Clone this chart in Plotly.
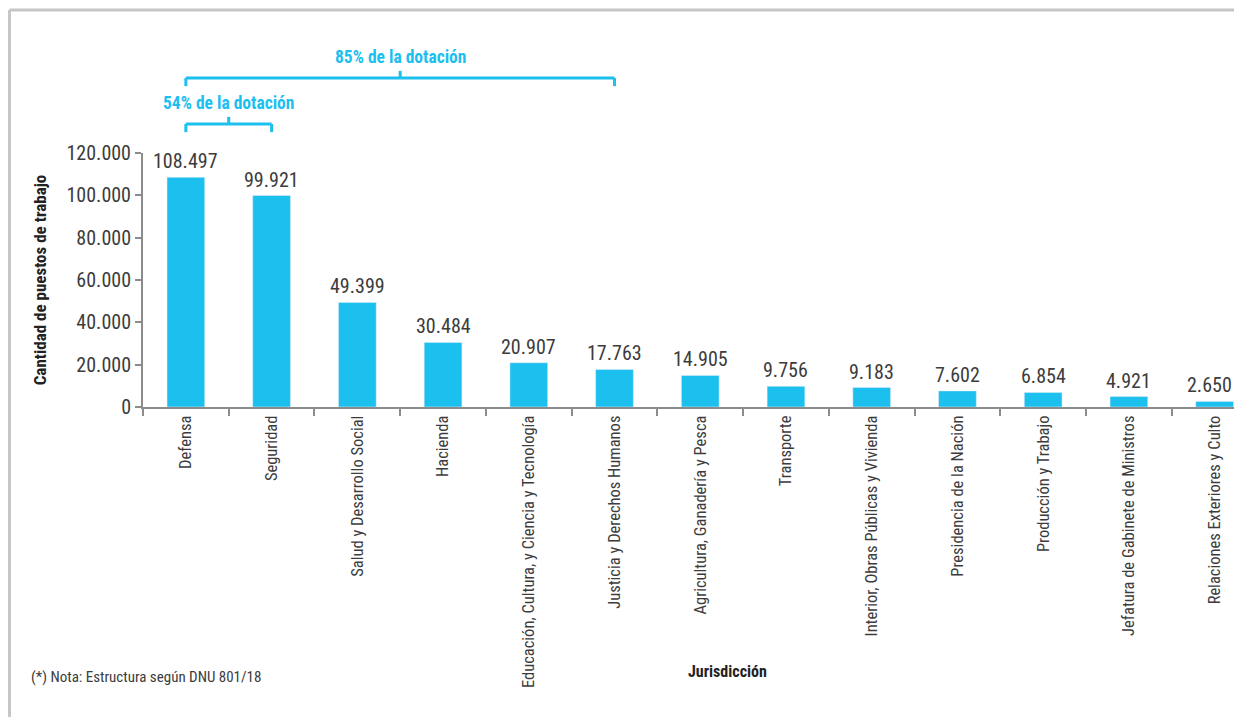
import plotly.graph_objects as go

# Jurisdicciones y cantidad de puestos de trabajo
jurisdicciones = [
    "Defensa",
    "Seguridad",
    "Salud y Desarrollo Social",
    "Hacienda",
    "Educación, Cultura, y Ciencia y Tecnología",
    "Justicia y Derechos Humanos",
    "Agricultura, Ganadería y Pesca",
    "Transporte",
    "Interior, Obras Públicas y Vivienda",
    "Presidencia de la Nación",
    "Producción y Trabajo",
    "Jefatura de Gabinete de Ministros",
    "Relaciones Exteriores y Culto",
]
puestos = [108497, 99921, 49399, 30484, 20907, 17763, 14905, 9756, 9183, 7602, 6854, 4921, 2650]
y_ticks = [0, 20000, 40000, 60000, 80000, 100000, 120000]

FONT = "Roboto Condensed, Roboto, sans-serif"
CYAN = "#1bc0ef"
GRIS = "#3c3c3c"
EJE = "#8c8c8c"

# the page puts the figure 8px in from the top-left corner (body margin)
OFF = 8
W, H = 1242 - 2 * OFF, 725 - 2 * OFF
# plot area on screen: x 143..(1242-8), y 153..407
L, T = 143 - OFF, 153 - OFF
B = H - (407 - OFF)
PW, PH = W - L, H - T - B
CAT_PX = 85.73  # ancho de cada categoría en px


def px_x(p):
    return (p - OFF - L) / PW


def px_y(p):
    return (H - B - (p - OFF)) / PH


def fmt(v):
    return f"{v:,}".replace(",", ".")


def main():
    fig = go.Figure()
    fig.add_trace(go.Bar(
        x=jurisdicciones,
        y=puestos,
        marker_color=CYAN,
        cliponaxis=False,
    ))

    # etiquetas de valor sobre cada barra (la última corrida un poco para que entre)
    for i, (cat, v) in enumerate(zip(jurisdicciones, puestos)):
        fig.add_annotation(
            x=cat, y=v, text=fmt(v), showarrow=False, yanchor="bottom", yshift=2,
            xshift=-5 if i == len(puestos) - 1 else 0,
            font=dict(family=FONT, size=20, color=GRIS),
        )

    fig.update_layout(
        width=W, height=H,
        margin=dict(l=L, r=0, t=T, b=B),
        paper_bgcolor="white", plot_bgcolor="white",
        separators=",.",
        bargap=0.56,
        showlegend=False,
        font=dict(family=FONT, color=GRIS),
    )
    fig.update_yaxes(
        range=[0, 120000], tickvals=y_ticks, ticktext=[fmt(v) for v in y_ticks],
        automargin=False,
        showgrid=False, zeroline=False,
        showline=True, linecolor=EJE, linewidth=2,
        ticks="outside", ticklen=6, tickcolor=EJE, tickwidth=2,
        tickfont=dict(family=FONT, size=20, color=GRIS),
        title=dict(text="<b>Cantidad de puestos de trabajo</b>",
                   font=dict(family=FONT, size=17, color="#222"), standoff=16),
    )
    fig.update_xaxes(
        range=[-0.5, -0.5 + PW / CAT_PX], automargin=False,
        showgrid=False, showline=True, linecolor=EJE, linewidth=2,
        ticks="outside", tickson="boundaries", ticklen=7, tickcolor=EJE, tickwidth=2,
        tickangle=-90,
        tickfont=dict(family=FONT, size=16.5, color=GRIS),
    )

    # Llaves de porcentaje de dotación
    def llave(x0, x1, y, texto):
        xm = (x0 + x1) / 2
        kw = dict(type="line", xref="x", yref="paper", line=dict(color=CYAN, width=3))
        fig.add_shape(x0=x0, x1=x1, y0=y, y1=y, **kw)
        fig.add_shape(x0=x0, x1=x0, y0=y, y1=y - 0.032, **kw)
        fig.add_shape(x0=x1, x1=x1, y0=y, y1=y - 0.032, **kw)
        fig.add_shape(x0=xm, x1=xm, y0=y, y1=y + 0.028, **kw)
        fig.add_annotation(x=xm, y=y + 0.036, xref="x", yref="paper", text=f"<b>{texto}</b>",
                           showarrow=False, yanchor="bottom",
                           font=dict(family=FONT, size=17.5, color=CYAN))

    llave(0, 1, px_y(124), "54% de la dotación")
    llave(0, 5, px_y(78), "85% de la dotación")

    fig.add_annotation(x=px_x(728), y=px_y(683), xref="paper", yref="paper",
                       text="<b>Jurisdicción</b>", showarrow=False,
                       font=dict(family=FONT, size=16, color="#222"))
    fig.add_annotation(x=px_x(29), y=px_y(688), xref="paper", yref="paper", showarrow=False,
                       text="(*) Nota: Estructura según DNU 801/18", xanchor="left",
                       font=dict(family=FONT, size=15, color=GRIS))

    # marco gris (arriba e izquierda)
    marco = dict(type="line", xref="paper", yref="paper", line=dict(color="#c6c6c6", width=3))
    fig.add_shape(x0=px_x(9.5), x1=px_x(1250), y0=px_y(10), y1=px_y(10), **marco)
    fig.add_shape(x0=px_x(9.5), x1=px_x(9.5), y0=px_y(10), y1=px_y(730), **marco)

    fig.write_html("out.html")


if __name__ == "__main__":
    main()
